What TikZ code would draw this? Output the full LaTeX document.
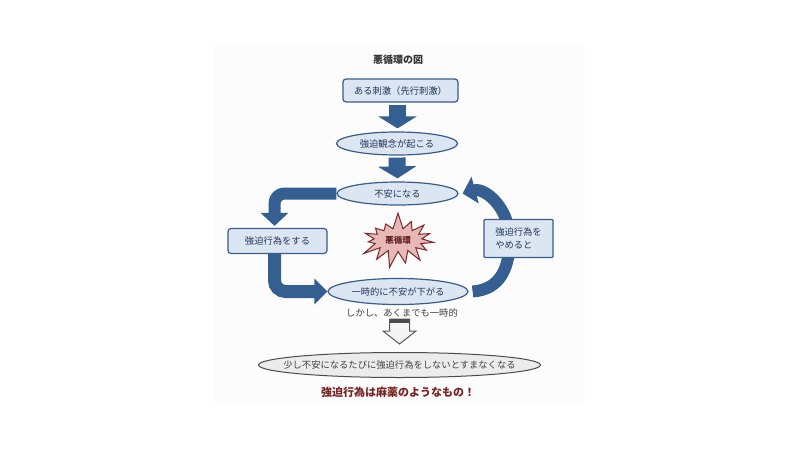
\documentclass[tikz,border=0pt]{standalone}
\usepackage{fontspec}
\setmainfont{Noto Sans CJK JP}
\usetikzlibrary{calc, positioning, arrows.meta, shapes.geometric, shapes.symbols}
\definecolor{boxblue}{RGB}{220,230,242}
\definecolor{lineblue}{RGB}{56,93,138}
\definecolor{arrowblue}{RGB}{54,95,145}
\definecolor{textblue}{RGB}{34,52,90}
\definecolor{burstfill}{RGB}{230,185,184}
\definecolor{burstline}{RGB}{125,40,40}
\definecolor{darkred}{RGB}{120,35,35}

\begin{document}
\begin{tikzpicture}[x=1pt, y=-1pt,
  box/.style={draw=lineblue, fill=boxblue, line width=1.2pt, rounded corners=3pt, text=textblue, font=\fontsize{9.3}{13}\selectfont, inner sep=0pt},
  ell/.style={ellipse, draw=lineblue, fill=boxblue, line width=1.2pt, text=textblue, font=\fontsize{9.3}{13}\selectfont, inner sep=0pt},
  down/.style={color=arrowblue, line width=17pt, -{Triangle[length=12pt, width=38pt]}},
  band/.style={color=arrowblue, line width=12pt, -{Triangle[length=13pt, width=27pt]}},
  burst/.style={starburst, starburst points=15, starburst point height=17pt, random starburst=7, draw=burstline, fill=burstfill, line width=1pt, minimum width=82pt, minimum height=57pt, text=burstline!80!black, font=\bfseries\fontsize{8.5}{10}\selectfont},
  hollow/.style={draw=gray!70!black, line width=1pt, fill=gray!8}]
  \useasboundingbox (0,0) rectangle (800,450);
  \fill[black!1] (214,45) rectangle (585,404);

  \node[font=\bfseries\fontsize{10}{12}\selectfont, text=black!80] (title) at (398,60) {悪循環の図};
  \node[box, minimum width=115pt, minimum height=23pt] (b1) at (400.5,90.5) {ある刺激（先行刺激）};
  \node[ell, minimum width=121pt, minimum height=23pt] (e2) at (397,143.5) {強迫観念が起こる};
  \node[ell, minimum width=121pt, minimum height=23pt] (e3) at (397.5,193.5) {不安になる};
  \node[box, minimum width=99pt, minimum height=25pt] (b2) at (277.5,241) {強迫行為をする};
  \node[ell, minimum width=140pt, minimum height=26pt] (e4) at (398,291.5) {一時的に不安が下がる};
  \node[burst] (vc) at (398,240) {悪循環};

  % arrows of the loop
  \draw[down, shorten <=2pt, shorten >=3pt] ([xshift=-3pt]b1.south) -- ([xshift=-3pt]b1.south |- e2.north);
  \draw[down, shorten <=2pt, shorten >=3pt] (e2.south) -- (e3.north);
  \draw[band, rounded corners=10pt] (e3.west) -| ($(b2.north)+(-3,-2)$);
  \draw[band, line width=13pt, -{Triangle[length=13pt, width=25pt]}, rounded corners=11pt] ($(b2.south)+(-3,0)$) |- (e4.west);
  \draw[band] ($(e4.east)+(4,0)$) .. controls +(28,-2) and +(0,28) .. ($(e4.east)+(41,-52)$) .. controls +(0,-32) and +(22,-6) .. ($(e3.east)+(4,0)$);
  \node[box, rounded corners=1pt, align=left, minimum width=69pt, minimum height=38pt] (b5) at (518.5,238.5) {強迫行為を\\やめると};

  % the way out
  \node[font=\fontsize{9.3}{11}\selectfont, text=black!75, inner sep=1pt] (note) at (402,313) {しかし、あくまでも一時的};
  \node[ellipse, draw=gray!60!black, fill=gray!15, line width=1pt, minimum width=282pt, minimum height=25pt, inner xsep=-16.5pt, inner ysep=0pt, text=black!75, font=\fontsize{9.3}{11}\selectfont] (ge) at (399.5,365) {少し不安になるたびに強迫行為をしないとすまなくなる};
  \draw[hollow] ($(ge.north)+(-10,-33)$) -- ++(20,0) -- ++(0,12) -- ++(6.5,0) -- ($(ge.north)+(0,-8)$) -- ++(-16.5,-13) -- ++(6.5,0) -- cycle;
  \fill[gray!60!black] ($(ge.north)+(-10,-33)$) rectangle ($(ge.north)+(10,-29)$);
  \node[font=\bfseries\fontsize{11}{12}\selectfont, text=darkred] (moral) at (398,392) {強迫行為は麻薬のようなもの！};
\end{tikzpicture}
\end{document}
